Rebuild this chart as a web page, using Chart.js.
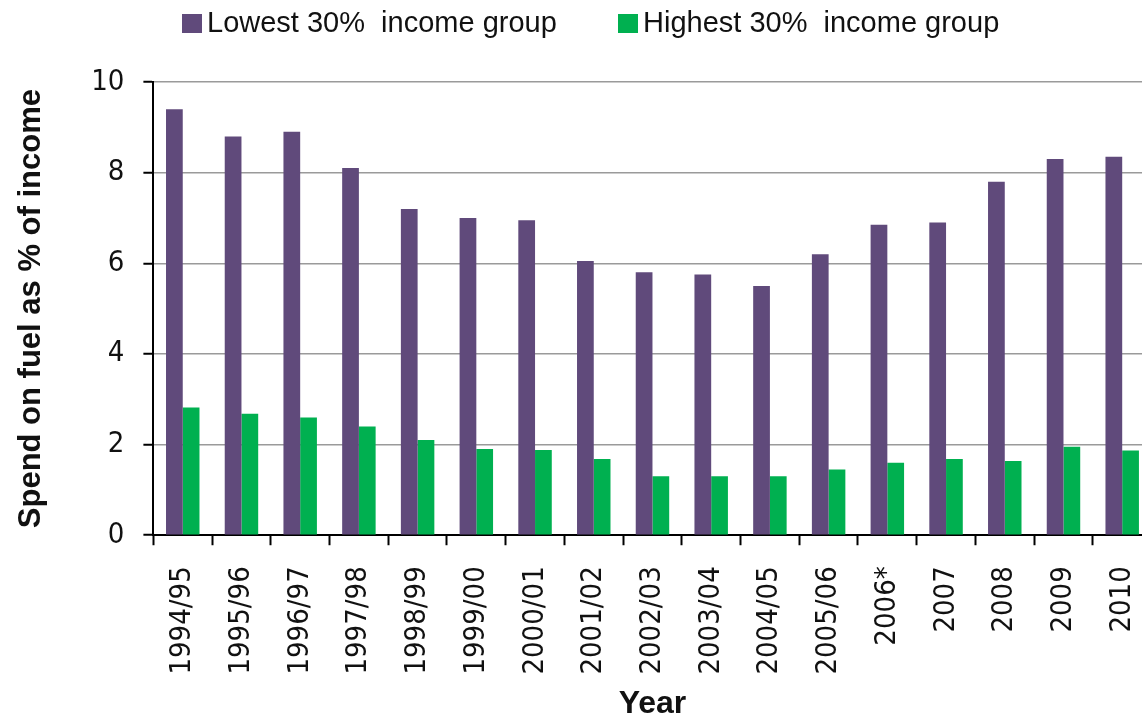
<!DOCTYPE html>
<html>
<head>
<meta charset="utf-8">
<title>Spend on fuel as % of income</title>
<script src="https://cdn.jsdelivr.net/npm/chart.js@4.4.1/dist/chart.umd.min.js"></script>
<style>
  html, body { margin: 0; padding: 0; background: #fff; overflow: hidden; }
  #wrap { position: relative; width: 1142px; height: 718px; overflow: hidden; }
  #grafico { position: absolute; left: 0; top: 0; }
  #legenda { position: absolute; left: 0; top: 0; width: 100%; height: 50px;
             font-family: "Liberation Sans", Arial, sans-serif; font-size: 29px; color: #111; }
  .item { position: absolute; top: 6px; white-space: pre; line-height: 33px; }
  .caixa { display: inline-block; width: 20px; height: 19px; vertical-align: -1px; margin-right: 5px; }
</style>
</head>
<body>
<div id="wrap">
  <canvas id="grafico" width="1178" height="718"></canvas>
  <div id="legenda"></div>
</div>
<script>
// Anos (eixo X)
const ANOS = [
  "1994/95", "1995/96", "1996/97", "1997/98", "1998/99", "1999/00",
  "2000/01", "2001/02", "2002/03", "2003/04", "2004/05", "2005/06",
  "2006*", "2007", "2008", "2009", "2010",
];

// Gasto com combustível como % da renda
const MENOR_30 = [9.4, 8.8, 8.9, 8.1, 7.2, 7.0, 6.95, 6.05, 5.8, 5.75, 5.5, 6.2, 6.85, 6.9, 7.8, 8.3, 8.35];
const MAIOR_30 = [2.82, 2.68, 2.6, 2.4, 2.1, 1.9, 1.88, 1.68, 1.3, 1.3, 1.3, 1.45, 1.6, 1.68, 1.64, 1.95, 1.87];

const SERIES = ["Lowest 30%  income group", "Highest 30%  income group"];
const CORES = ["#604a7b", "#00b050"];

// Ticks do eixo Y
const Y_MIN = 0, Y_MAX = 10, Y_PASSO = 2;

const FONTE = "'Liberation Sans', Arial, sans-serif";
const FONTE_ESTREITA = "'Liberation Sans Narrow', 'Arial Narrow', 'DejaVu Sans Condensed', 'Liberation Sans', sans-serif";

// Legenda em HTML (espaçamento igual ao original)
const posLegenda = [182, 618];
const legenda = document.getElementById("legenda");
SERIES.forEach((nome, i) => {
  const el = document.createElement("div");
  el.className = "item";
  el.style.left = posLegenda[i] + "px";
  el.innerHTML = `<span class="caixa" style="background:${CORES[i]}"></span>${nome}`;
  legenda.appendChild(el);
});

new Chart(document.getElementById("grafico"), {
  type: "bar",
  data: {
    labels: ANOS,
    datasets: [
      { label: SERIES[0], data: MENOR_30, backgroundColor: CORES[0] },
      { label: SERIES[1], data: MAIOR_30, backgroundColor: CORES[1] },
    ],
  },
  options: {
    responsive: false,
    animation: false,
    devicePixelRatio: 1,
    layout: { padding: { top: 82, right: 0, left: 0, bottom: 0 } },
    datasets: { bar: { categoryPercentage: 0.57, barPercentage: 1.0 } },
    plugins: { legend: { display: false }, tooltip: { enabled: false } },
    scales: {
      x: {
        grid: { display: true, drawOnChartArea: false, offset: true,
                tickLength: 10, tickColor: "#000", tickWidth: 2 },
        border: { color: "#000", width: 2 },
        ticks: { minRotation: 90, maxRotation: 90, padding: 21, color: "#111",
                 autoSkip: false, font: { family: FONTE_ESTREITA, size: 29 } },
        title: { display: true, text: "Year", color: "#111",
                 font: { family: FONTE, size: 32, weight: "bold" },
                 padding: { top: -11, bottom: -5 } },
      },
      y: {
        min: Y_MIN, max: Y_MAX,
        grid: { color: "#9a9a9a", lineWidth: 1.5, tickLength: 10, tickColor: "#000", tickWidth: 2 },
        border: { color: "#000", width: 2 },
        ticks: { stepSize: Y_PASSO, padding: 19, color: "#111",
                 font: { family: FONTE_ESTREITA, size: 29 } },
        title: { display: true, text: "Spend on fuel as % of income", color: "#111",
                 font: { family: FONTE, size: 31, weight: "bold" },
                 padding: { top: 13, bottom: 22 } },
      },
    },
  },
});
</script>
</body>
</html>
